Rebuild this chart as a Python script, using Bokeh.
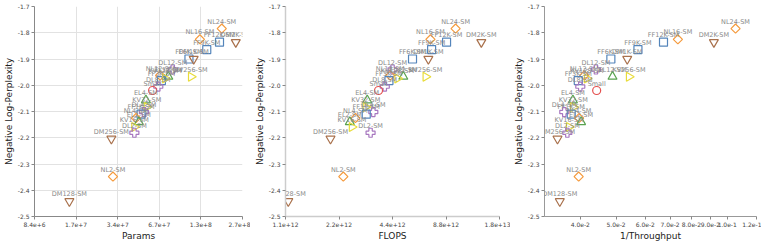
import math
from bokeh.plotting import figure
from bokeh.layouts import row
from bokeh.models import ColumnDataSource, FixedTicker, CustomJSTickFormatter, Range1d, LabelSet
from bokeh.core.properties import value
from bokeh.embed import file_html
from bokeh.resources import INLINE

names = ["NL24-SM", "NL16-SM", "FF12K-SM", "DM2K-SM", "FF9K-SM", "FF6K-SM", "DM1K-SM",
         "KV256-SM", "DL12-SM", "NL12-SM", "EL12-SM", "FF3K-SM", "KV128-SM", "DL8-SM",
         "Small", "EL4-SM", "KV32-SM", "DL4-SM", "FF1K-SM", "NL4-SM", "EL2-SM", "KV16-SM",
         "DL2-SM", "DM256-SM", "NL2-SM", "DM128-SM"]
family = ["NL", "NL", "FF", "DM", "FF", "FF", "DM",
          "KV", "DL", "NL", "EL", "FF", "KV", "DL",
          "SM", "EL", "KV", "DL", "FF", "NL", "EL", "KV",
          "DL", "DM", "NL", "DM"]
params = [1.90e8, 1.32e8, 1.83e8, 2.40e8, 1.48e8, 1.10e8, 1.19e8,
          1.14e8, 8.4e7, 6.8e7, 7.8e7, 6.95e7, 7.4e7, 6.6e7,
          6.0e7, 5.37e7, 5.45e7, 5.2e7, 4.95e7, 4.55e7, 4.77e7, 4.43e7,
          4.43e7, 3.02e7, 3.1e7, 1.5e7]
flops = [9.96e12, 7.19e12, 8.86e12, 1.39e13, 7.3e12, 5.7e12, 7.0e12,
         6.76e12, 4.4e12, 4.27e12, 5.06e12, 4.2e12, 4.69e12, 3.98e12,
         3.67e12, 3.17e12, 3.11e12, 3.43e12, 3.13e12, 2.72e12, 2.53e12, 2.6e12,
         3.31e12, 1.97e12, 2.325e12, 1.14e12]
inv_throughput = [0.1053, 0.0735, 0.0672, 0.092, 0.0573, 0.0484, 0.0536,
                  0.0542, 0.0441, 0.041, 0.0489, 0.0395, 0.0417, 0.040,
                  0.0443, 0.0382, 0.0383, 0.0362, 0.0378, 0.0397, 0.0402, 0.0373,
                  0.0369, 0.0347, 0.0396, 0.0352]
neg_log_ppl = [-1.784, -1.825, -1.836, -1.836, -1.864, -1.900, -1.900,
               -1.968, -1.940, -1.963, -1.967, -1.982, -1.974, -2.005,
               -2.020, -2.057, -2.083, -2.102, -2.110, -2.125, -2.140, -2.159,
               -2.181, -2.204, -2.348, -2.442]

y_ticks = [-2.5, -2.4, -2.3, -2.2, -2.1, -2.0, -1.9, -1.8, -1.7]
params_ticks = [2.0 ** k for k in range(23, 29)]
flops_ticks = [2.0 ** k for k in range(40, 45)]
tp_ticks = [0.04, 0.05, 0.06, 0.07, 0.08, 0.09, 0.10, 0.12]

styles = {
    "NL": ("square", "#f59a3c", math.pi / 4, 6.5),
    "DM": ("inverted_triangle", "#a9714c", 0.0, 9),
    "FF": ("square", "#5485bb", 0.0, 8),
    "DL": ("plus", "#a878c0", 0.0, 9),
    "EL": ("triangle", "#5aa34f", 0.0, 9),
    "KV": ("triangle", "#e8dc3a", -math.pi / 2, 9),
    "SM": ("circle", "#e4504f", 0.0, 8),
}

FONT = "DejaVu Sans"


def make_panel(xvals, xlabel, xrange, xticks, width, left, right, grid, axis_color, axis_w):
    p = figure(width=width, height=243, x_axis_type="log", output_backend="svg",
               toolbar_location=None, x_range=Range1d(*xrange), y_range=Range1d(-2.5, -1.7),
               min_border_left=left, min_border_right=right, min_border_top=6,
               min_border_bottom=24)
    p.outline_line_color = None
    p.background_fill_color = "white"
    src = ColumnDataSource(dict(
        x=xvals, y=neg_log_ppl, name=names,
        marker=[styles[f][0] for f in family],
        color=[styles[f][1] for f in family],
        angle=[styles[f][2] for f in family],
        size=[styles[f][3] for f in family],
    ))
    p.scatter("x", "y", source=src, marker="marker", size="size", angle="angle",
              fill_color=None, line_color="color", line_width=1.2)
    labels = LabelSet(x="x", y="y", text="name", source=src, y_offset=3,
                      text_align="center", text_baseline="bottom",
                      text_font_size="6.5px", text_color="#8a8a8a", text_font=value(FONT))
    p.add_layout(labels)

    p.xaxis.ticker = FixedTicker(ticks=xticks)
    p.xaxis.formatter = CustomJSTickFormatter(code="return tick.toExponential(1);")
    p.yaxis.ticker = FixedTicker(ticks=y_ticks)
    p.yaxis.formatter = CustomJSTickFormatter(code="return tick.toFixed(1);")
    for ax in (p.xaxis[0], p.yaxis[0]):
        ax.major_label_text_font = FONT
        ax.major_label_text_font_size = "6px"
        ax.major_label_text_color = "#444444"
        ax.axis_label_text_font = FONT
        ax.axis_label_text_font_size = "9px"
        ax.axis_label_text_font_style = "normal"
        ax.axis_label_text_color = "#222222"
        ax.minor_tick_line_color = None
        ax.major_tick_out = 3
        ax.major_tick_in = 0
        ax.major_label_standoff = 2
        ax.axis_label_standoff = 1
        ax.axis_line_color = axis_color
        ax.axis_line_width = axis_w
        ax.major_tick_line_color = "#888888"
    p.xaxis.axis_label = xlabel
    p.yaxis.axis_label = "Negative Log-Perplexity"
    if grid:
        p.xgrid.grid_line_color = "#e2e2e2"
        p.ygrid.grid_line_color = "#e2e2e2"
        p.xgrid.ticker = FixedTicker(ticks=xticks)
        p.ygrid.ticker = FixedTicker(ticks=y_ticks)
    else:
        p.xgrid.grid_line_color = None
        p.ygrid.grid_line_color = None
    return p


p1 = make_panel(params, "Params", (2.0 ** 23, 2.0 ** 28), params_ticks, 250, 27, 8, True,
                "#888888", 1)
p2 = make_panel(flops, "FLOPS", (2.0 ** 40, 2.0 ** 44), flops_ticks, 260, 35, 11, False,
                "#cccccc", 1.5)
p3 = make_panel(inv_throughput, "1/Throughput", (0.032, 0.12), tp_ticks, 251, 33, 5, False,
                "#999999", 1)

layout = row(p1, p2, p3)
open("out.html", "w").write(file_html(layout, INLINE))
